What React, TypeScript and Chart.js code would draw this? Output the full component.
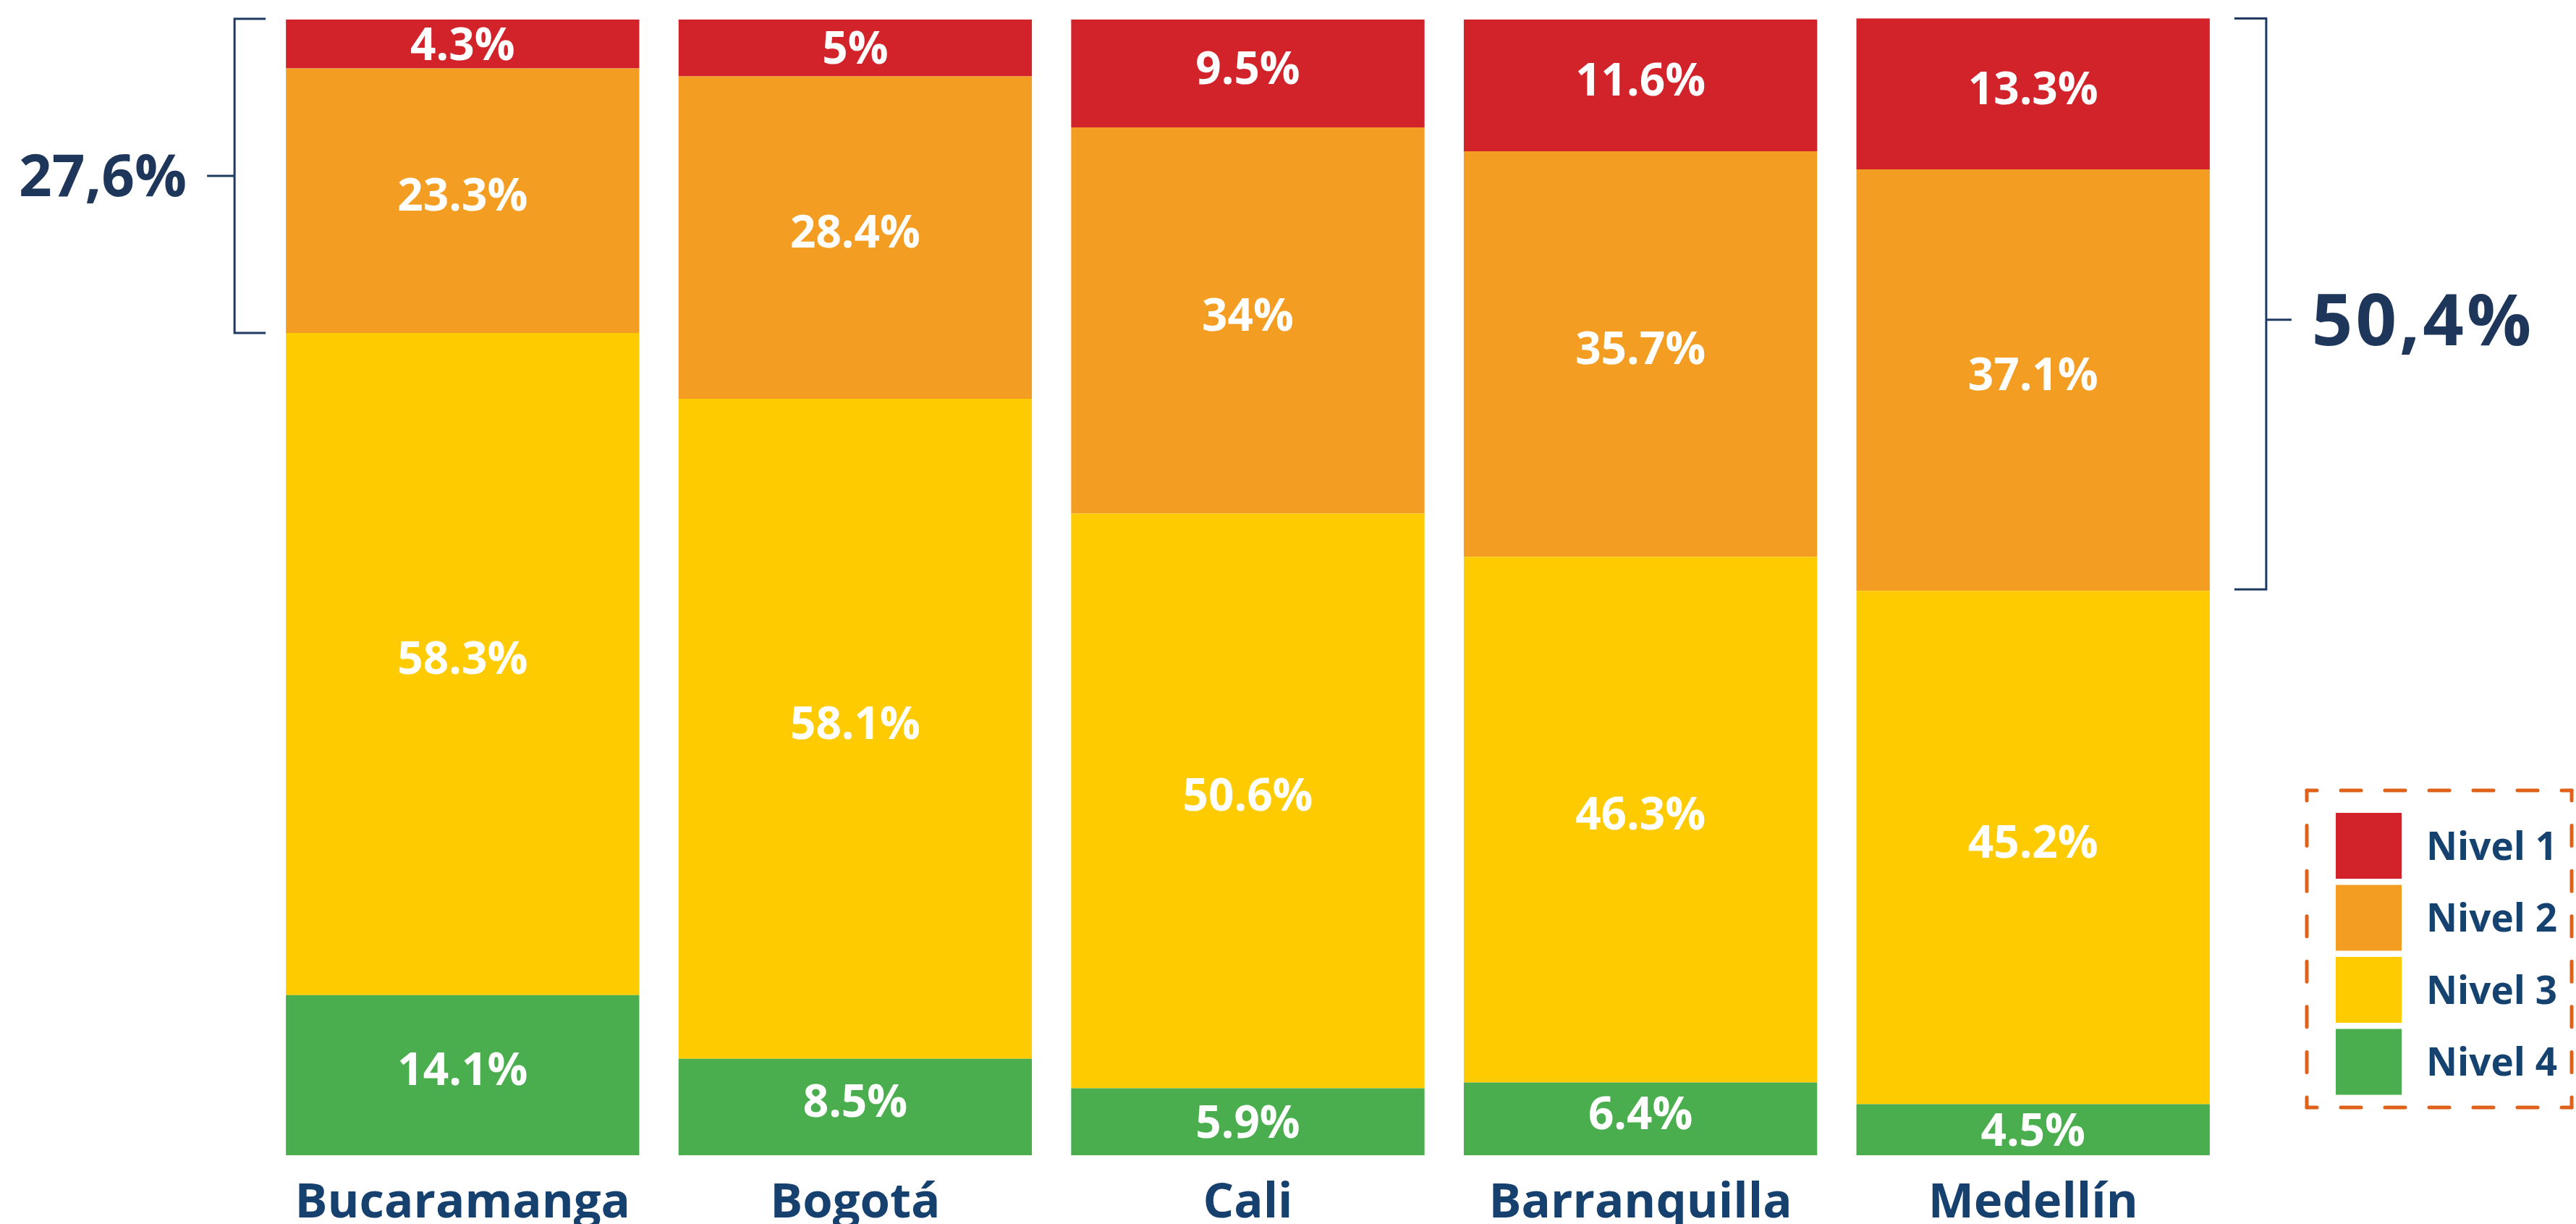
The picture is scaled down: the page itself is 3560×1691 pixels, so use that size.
import React, { useEffect, useRef } from "react";
import { Chart, registerables } from "chart.js";

Chart.register(...registerables);

const categories = ["Bucaramanga", "Bogotá", "Cali", "Barranquilla", "Medellín"];
const nivel1 = [4.3, 5, 9.5, 11.6, 13.3];
const nivel2 = [23.3, 28.4, 34, 35.7, 37.1];
const nivel3 = [58.3, 58.1, 50.6, 46.3, 45.2];
const nivel4 = [14.1, 8.5, 5.9, 6.4, 4.5];
const seriesNames = ["Nivel 1", "Nivel 2", "Nivel 3", "Nivel 4"];
const seriesColors = ["#d2232b", "#f49d23", "#fecb00", "#4aae4f"];

const FONT = "'Open Sans', 'Liberation Sans', sans-serif";

const fmtPct = (v: number) => `${v}%`;
const fmtComma = (v: number) => `${v.toFixed(1).replace(".", ",")}%`;

function dashedLine(ctx: CanvasRenderingContext2D, x1: number, y1: number, x2: number, y2: number) {
  const L = Math.hypot(x2 - x1, y2 - y1);
  const n = Math.max(1, Math.round(L / 62));
  const P = L / n;
  const d = 28;
  ctx.setLineDash([d, P - d]);
  ctx.lineDashOffset = d / 2;
  ctx.beginPath();
  ctx.moveTo(x1, y1);
  ctx.lineTo(x2, y2);
  ctx.stroke();
}

const segLabels = {
  id: "segLabels",
  afterDatasetsDraw(chart: any) {
    const ctx = chart.ctx as CanvasRenderingContext2D;
    ctx.save();
    ctx.font = `700 62px ${FONT}`;
    ctx.fillStyle = "#ffffff";
    ctx.textAlign = "center";
    ctx.textBaseline = "alphabetic";
    chart.data.datasets.forEach((ds: any, di: number) => {
      const meta = chart.getDatasetMeta(di);
      meta.data.forEach((bar: any, i: number) => {
        const { x, y, base } = bar.getProps(["x", "y", "base"], true);
        const h = Math.abs(base - y);
        const cy = (y + base) / 2 + 22 - (h > 100 ? 8 : 0);
        ctx.fillText(fmtPct(ds.data[i]), x, cy);
      });
    });
    ctx.restore();
  },
};

const decorations = {
  id: "decorations",
  afterDraw(chart: any) {
    const ctx = chart.ctx as CanvasRenderingContext2D;
    const xs = chart.scales.x;
    const area = chart.chartArea;
    ctx.save();

    // category labels
    ctx.font = `700 67px ${FONT}`;
    ctx.fillStyle = "#16416f";
    ctx.textAlign = "center";
    ctx.textBaseline = "alphabetic";
    categories.forEach((c, i) => {
      ctx.fillText(c, xs.getPixelForValue(i), area.bottom + 86);
    });

    // brackets
    const metaTop = chart.getDatasetMeta(3);
    const metaN3 = chart.getDatasetMeta(1);
    ctx.strokeStyle = "#1f3a60";
    ctx.lineWidth = 3;
    ctx.setLineDash([]);

    // left bracket (first category)
    {
      const bar = metaTop.data[0].getProps(["x", "y", "width"], true);
      const low = metaN3.data[0].getProps(["y"], true);
      const left = bar.x - bar.width / 2;
      const yT = bar.y - 1;
      const yB = low.y;
      const vx = left - 71;
      ctx.beginPath();
      ctx.moveTo(left - 28, yT);
      ctx.lineTo(vx, yT);
      ctx.lineTo(vx, yB);
      ctx.lineTo(left - 28, yB);
      const my = (yT + yB) / 2;
      ctx.moveTo(vx, my);
      ctx.lineTo(vx - 38, my);
      ctx.stroke();
      ctx.font = `700 80px ${FONT}`;
      ctx.fillStyle = "#1e3659";
      ctx.textAlign = "right";
      ctx.fillText(fmtComma(nivel1[0] + nivel2[0]), vx - 66, my + 28);
    }
    // right bracket (last category)
    {
      const k = categories.length - 1;
      const bar = metaTop.data[k].getProps(["x", "y", "width"], true);
      const low = metaN3.data[k].getProps(["y"], true);
      const right = bar.x + bar.width / 2;
      const yT = bar.y;
      const yB = low.y - 2;
      const vx = right + 78;
      ctx.beginPath();
      ctx.moveTo(right + 34, yT);
      ctx.lineTo(vx, yT);
      ctx.lineTo(vx, yB);
      ctx.lineTo(right + 34, yB);
      const my = (yT + yB) / 2 + 22;
      ctx.moveTo(vx, my);
      ctx.lineTo(vx + 35, my);
      ctx.stroke();
      ctx.font = `700 99px ${FONT}`;
      ctx.fillStyle = "#1e3659";
      ctx.textAlign = "left";
      try {
        (ctx as any).letterSpacing = "4px";
      } catch (e) {}
      ctx.fillText(fmtComma(nivel1[k] + nivel2[k]), vx + 63, my + 35);
      try {
        (ctx as any).letterSpacing = "0px";
      } catch (e) {}
    }

    // legend
    const lx = 3188, ly = 1092, lw = 366, lh = 438;
    ctx.strokeStyle = "#e0621a";
    ctx.lineWidth = 5;
    ctx.lineCap = "round";
    dashedLine(ctx, lx, ly, lx + lw, ly);
    dashedLine(ctx, lx + lw, ly, lx + lw, ly + lh);
    dashedLine(ctx, lx + lw, ly + lh, lx, ly + lh);
    dashedLine(ctx, lx, ly + lh, lx, ly);
    ctx.setLineDash([]);
    ctx.font = `700 53px ${FONT}`;
    ctx.textAlign = "left";
    seriesNames.forEach((name, i) => {
      const sy = 1123 + i * 99.5;
      ctx.fillStyle = seriesColors[i];
      ctx.fillRect(3228, sy, 91, 91);
      ctx.fillStyle = "#15426f";
      ctx.fillText(name, 3353, sy + 45.5 + 19);
    });

    ctx.restore();
  },
};

export default function App() {
  const ref = useRef<HTMLCanvasElement | null>(null);

  useEffect(() => {
    document.body.style.margin = "0";
    if (!ref.current) return;
    const values = [nivel1, nivel2, nivel3, nivel4];
    const order = [3, 2, 1, 0];
    const chart = new Chart(ref.current, {
      type: "bar",
      data: {
        labels: categories,
        datasets: order.map((k) => ({
          label: seriesNames[k],
          data: values[k],
          backgroundColor: seriesColors[k],
          borderWidth: 0,
          categoryPercentage: 1,
          barPercentage: 0.9,
          clip: false as any,
        })),
      },
      options: {
        animation: false,
        responsive: true,
        maintainAspectRatio: false,
        devicePixelRatio: 1,
        layout: { padding: { left: 368, right: 479, top: 27, bottom: 95 } },
        plugins: { legend: { display: false }, tooltip: { enabled: false } },
        scales: {
          x: { stacked: true, display: false },
          y: { stacked: true, display: false, min: 0, max: 100 },
        },
      },
      plugins: [segLabels, decorations],
    });
    let alive = true;
    document.fonts
      .load(`700 62px 'Open Sans'`)
      .then(() => {
        if (alive) chart.update();
      })
      .catch(() => {});
    return () => {
      alive = false;
      chart.destroy();
    };
  }, []);

  return (
    <div style={{ width: 3560, height: 1691, position: "relative", background: "#ffffff" }}>
      <canvas ref={ref} />
    </div>
  );
}
